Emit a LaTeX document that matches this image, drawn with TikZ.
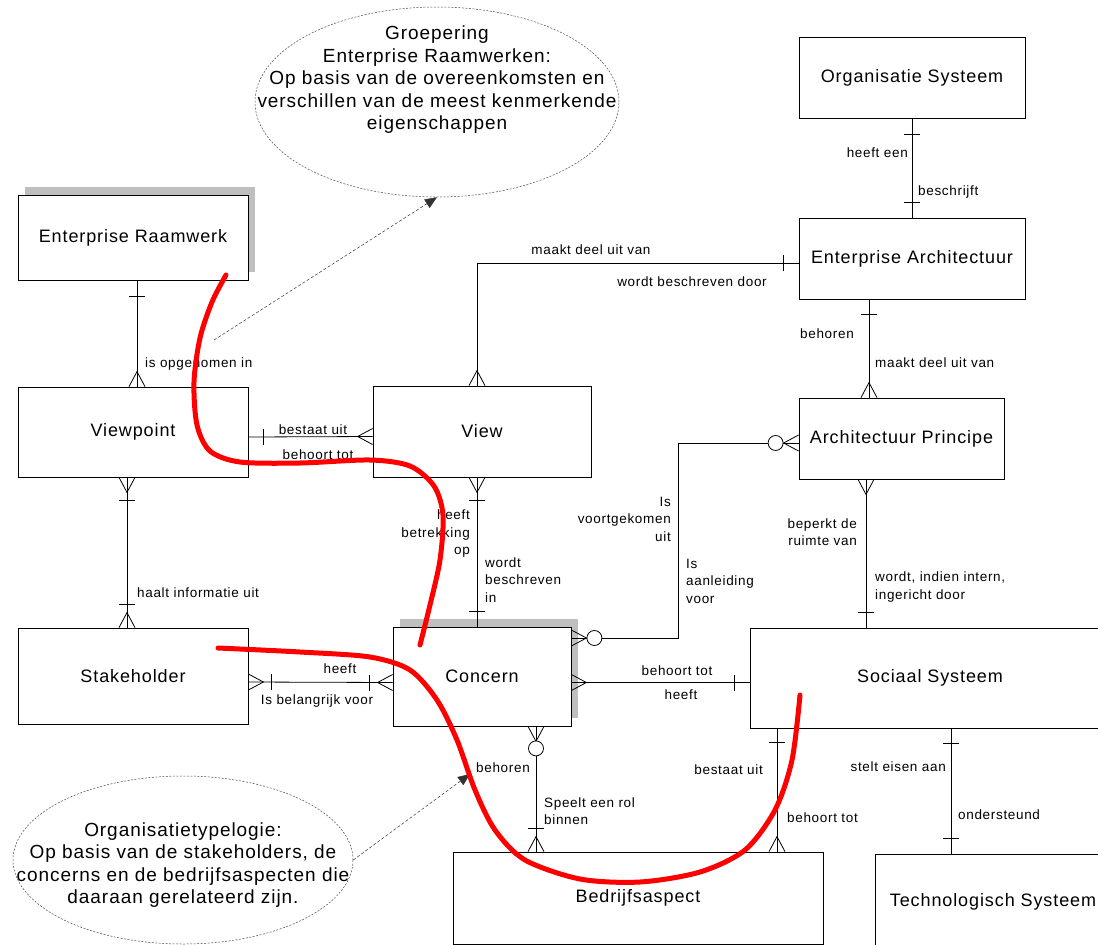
\documentclass[tikz,border=0pt]{standalone}
\usepackage{fontspec}
\setmainfont{Liberation Sans}[LetterSpace=5]
\usetikzlibrary{shapes.geometric,arrows.meta,shadows}

\begin{document}
\begin{tikzpicture}[x=1pt,y=-1pt,
        caja/.style={draw, line width=0.8pt, fill=white, inner sep=0pt,
                     font=\fontsize{18}{21}\selectfont},
        sombra/.style={drop shadow={shadow xshift=7pt, shadow yshift=8pt,
                       fill=black!25, opacity=1}},
        rel/.style={line width=0.8pt},
        lbl/.style={inner sep=0pt, font=\fontsize{13.5}{17.5}\selectfont},
        nota/.style={draw=black!70, ellipse, dash pattern=on 2pt off 1.5pt,
                     line width=0.5pt, inner sep=0pt},
        notatxt/.style={align=center, inner sep=0pt,
                        font=\fontsize{19}{22.5}\selectfont},
        guia/.style={draw=black!80, dash pattern=on 3pt off 2pt, line width=0.5pt,
                     -{Triangle[length=12pt,width=10pt]}},
        trazo/.style={red, line width=5pt, line cap=round, line join=round},
        pics/muchos/.style={code={\draw[line width=0.8pt] (0,-8) -- (15,0) -- (0,8);}},
        pics/uno/.style={code={\draw[line width=0.8pt] (#1,-8) -- (#1,8);}},
        pics/cero/.style={code={\draw[line width=0.8pt, fill=white] (#1,0) circle [radius=7.5pt];}}]

        % Paso 1: Fija el marco del dibujo
        \useasboundingbox (0,0) rectangle (1098,945);
        \fill[white] (0,0) rectangle (1098,945);
        \clip (0,0) rectangle (1098,945);

        % Paso 2: Dibuja las entidades
        \node[caja, sombra, minimum width=230pt, minimum height=85pt] (ER) at (133,237.5) {Enterprise Raamwerk};
        \node[caja, minimum width=230pt, minimum height=90pt] (VP) at (133,432) {Viewpoint};
        \node[caja, minimum width=218pt, minimum height=91pt] (V) at (482,431.5) {View};
        \node[caja, minimum width=230pt, minimum height=96pt] (SH) at (133,676) {Stakeholder};
        \node[caja, sombra, minimum width=178pt, minimum height=99pt] (C) at (482,676.5) {Concern};
        \node[caja, minimum width=370pt, minimum height=92pt] (BA) at (638,898) {Bedrijfsaspect};
        \node[caja, minimum width=360pt, minimum height=100pt] (SS) at (930,678) {Sociaal Systeem};
        \node[caja, minimum width=236pt, minimum height=96pt] (TS) at (993,902) {Technologisch Systeem};
        \node[caja, minimum width=205pt, minimum height=81pt] (AP) at (901.5,438.5) {Architectuur Principe};
        \node[caja, minimum width=226pt, minimum height=81pt] (EA) at (912,258.5) {Enterprise Architectuur};
        \node[caja, minimum width=226pt, minimum height=81pt] (OS) at (912,77.5) {Organisatie Systeem};

        % Paso 3: Dibuja las relaciones y sus extremos
        \draw[rel] ([xshift=4pt]ER.south) coordinate (er1) -- ([xshift=4pt]VP.north) coordinate (vp1);
        \path (er1) pic[rotate=-90] {uno=16} (vp1) pic[rotate=90] {muchos};

        \draw[rel] ([yshift=-5pt]VP.east) coordinate (vp2) -- ([yshift=-5pt]V.west) coordinate (v2);
        \path (vp2) pic {uno=15} (v2) pic[rotate=180] {muchos};

        \draw[rel] ([xshift=-6pt]VP.south) coordinate (vp3) -- ([xshift=-6pt]SH.north) coordinate (sh3);
        \path (vp3) pic[rotate=-90] {muchos} pic[rotate=-90] {uno=23}
              (sh3) pic[rotate=90] {muchos} pic[rotate=90] {uno=23};

        \draw[rel] ([yshift=-6pt]SH.east) coordinate (sh4) -- ([yshift=-6pt]C.west) coordinate (c4);
        \path (sh4) pic {muchos} pic {uno=23}
              (c4) pic[rotate=180] {muchos} pic[rotate=180] {uno=23};

        \draw[rel] ([xshift=-5pt]V.south) coordinate (v5) -- ([xshift=-5pt]C.north) coordinate (c5);
        \path (v5) pic[rotate=-90] {muchos} pic[rotate=-90] {uno=23}
              (c5) pic[rotate=90] {uno=15};

        \draw[rel] ([xshift=-5pt]V.north) coordinate (v6) |- ([yshift=-4.5pt]EA.west) coordinate (ea6);
        \path (v6) pic[rotate=90] {muchos} (ea6) pic[rotate=180] {uno=15};

        \draw[rel] (OS.south) -- (EA.north);
        \path (OS.south) pic[rotate=-90] {uno=16} (EA.north) pic[rotate=90] {uno=15};

        \draw[rel] ([xshift=-43pt]EA.south) coordinate (ea8) -- (ea8 |- AP.north) coordinate (ap8);
        \path (ea8) pic[rotate=-90] {uno=15} (ap8) pic[rotate=90] {muchos};

        \draw[rel] ([yshift=-4.5pt]AP.west) coordinate (ap9) -- ++(-120,0) |- ([yshift=38.5pt]C.east) coordinate (c9);
        \path (ap9) pic[rotate=180] {muchos} pic[rotate=180] {cero=23}
              (c9) pic {muchos} pic {cero=23};

        \draw[rel] ([xshift=-35.5pt]AP.south) coordinate (ap10) -- (ap10 |- SS.north) coordinate (ss10);
        \path (ap10) pic[rotate=-90] {muchos} (ss10) pic[rotate=90] {uno=15};

        \draw[rel] ([yshift=-6pt]C.east) coordinate (c11) -- (c11 -| SS.west) coordinate (ss11);
        \path (c11) pic {muchos} (ss11) pic[rotate=180] {uno=15};

        \draw[rel] ([xshift=54pt]C.south) coordinate (c12) -- (c12 |- BA.north) coordinate (ba12);
        \path (c12) pic[rotate=-90] {muchos} pic[rotate=-90] {cero=22}
              (ba12) pic[rotate=90] {muchos} pic[rotate=90] {uno=23};

        \draw[rel] ([xshift=-153pt]SS.south) coordinate (ss13) -- (ss13 |- BA.north) coordinate (ba13);
        \path (ss13) pic[rotate=-90] {uno=14} (ba13) pic[rotate=90] {muchos};

        \draw[rel] ([xshift=21pt]SS.south) coordinate (ss14) -- (ss14 |- TS.north) coordinate (ts14);
        \path (ss14) pic[rotate=-90] {uno=15} (ts14) pic[rotate=90] {uno=15};

        % Paso 4: Agrega los nombres de las relaciones
        \node[lbl, anchor=west] (t1) at (145,364) {is opgenomen in};
        \node[lbl] (t2a) at (313,430) {bestaat uit};
        \node[lbl] (t2b) at (318,455) {behoort tot};
        \node[lbl, anchor=west] (t3) at (137,593) {haalt informatie uit};
        \node[lbl] (t4a) at (340,669) {heeft};
        \node[lbl] (t4b) at (317,701) {Is belangrijk voor};
        \node[lbl, anchor=east, align=right] (t5a) at (470,534) {heeft\\betrekking\\op};
        \node[lbl, anchor=west, align=left] (t5b) at (485,580) {wordt\\beschreven\\in};
        \node[lbl] (t6a) at (591,250) {maakt deel uit van};
        \node[lbl] (t6b) at (692,282) {wordt beschreven door};
        \node[lbl, anchor=east] (t7a) at (908,153) {heeft een};
        \node[lbl, anchor=west] (t7b) at (918,192) {beschrijft};
        \node[lbl, anchor=west] (t8a) at (800,334) {behoren};
        \node[lbl, anchor=west] (t8b) at (875,363) {maakt deel uit van};
        \node[lbl, anchor=east, align=right] (t9a) at (671,519) {Is\\voortgekomen\\uit};
        \node[lbl, anchor=west, align=left] (t9b) at (686,581) {Is\\aanleiding\\voor};
        \node[lbl, anchor=east, align=right] (t10a) at (857,532) {beperkt de\\ruimte van};
        \node[lbl, anchor=west, align=left] (t10b) at (875,587) {wordt, indien intern,\\ingericht door};
        \node[lbl] (t11a) at (677,671) {behoort tot};
        \node[lbl] (t11b) at (681,695) {heeft};
        \node[lbl, anchor=east] (t12a) at (530,768) {behoren};
        \node[lbl, anchor=west, align=left] (t12b) at (544,811) {Speelt een rol\\binnen};
        \node[lbl, anchor=east] (t13a) at (763,770) {bestaat uit};
        \node[lbl, anchor=west] (t13b) at (787,818) {behoort tot};
        \node[lbl, anchor=east] (t14a) at (946,767) {stelt eisen aan};
        \node[lbl, anchor=west] (t14b) at (958,815) {ondersteund};

        % Paso 5: Dibuja las notas y sus flechas
        \node[nota, minimum width=364pt, minimum height=190pt] (G) at (437,102) {};
        \node[notatxt] (Gt) at (437,80) {Groepering\\Enterprise Raamwerken:\\Op basis van de overeenkomsten en\\verschillen van de meest kenmerkende\\eigenschappen};
        \node[nota, minimum width=340pt, minimum height=168pt] (O) at (183,860) {};
        \node[notatxt] (Ot) at (183,865) {Organisatietypelogie:\\Op basis van de stakeholders, de\\concerns en de bedrijfsaspecten die\\daaraan gerelateerd zijn.};
        \coordinate (g1) at (214,340);
        \coordinate (o1) at (470,774);
        \draw[guia] (g1) -- (G.south);
        \draw[guia] (O.east) -- (o1);

        % Paso 6: Dibuja los trazos rojos
        \draw[trazo] plot[smooth] coordinates {(226,275) (212,302) (200,338) (194,382) (197,425) (210,451) (240,462) (300,463) (370,460) (410,466) (434,486) (443,515) (440,560) (430,605) (420,645)};
        \draw[trazo] plot[smooth] coordinates {(218,648) (300,652) (370,657) (410,670) (437,700) (457,740) (475,790) (495,830) (525,860) (580,879) (640,882) (700,872) (745,850) (775,810) (792,760) (800,695)};
\end{tikzpicture}
\end{document}
